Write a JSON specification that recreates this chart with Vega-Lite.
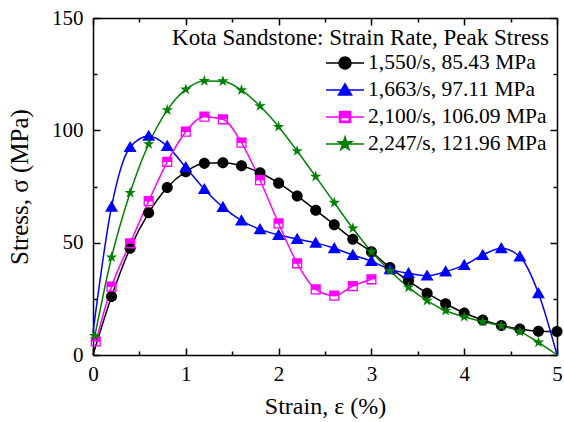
{
  "$schema": "https://vega.github.io/schema/vega-lite/v6.json",
  "width": 464,
  "height": 337,
  "autosize": {"type": "none"},
  "padding": {"left": 93, "top": 18, "right": 7, "bottom": 67},
  "background": "white",
  "title": {"text": "Kota Sandstone: Strain Rate, Peak Stress", "anchor": "end", "frame": "group", "offset": -43, "dx": -8, "font": "Liberation Serif", "fontSize": 23, "fontWeight": "normal", "color": "black"},
  "config": {
    "view": {"stroke": null},
    "axis": {"domainColor": "black", "domainWidth": 1.5, "tickColor": "black", "tickWidth": 1.5, "grid": false, "labelFont": "Liberation Serif", "labelFontSize": 21, "labelColor": "black", "titleFont": "Liberation Serif", "titleFontWeight": "normal", "titleColor": "black"},
    "legend": {"labelFont": "Liberation Serif", "labelFontSize": 21.5, "labelColor": "black", "labelLimit": 0}
  },
  "data": {"values": [
    {"series": "1,550/s, 85.43 MPa", "strain": 0, "stress": 0},
    {"series": "1,550/s, 85.43 MPa", "strain": 0.2, "stress": 26},
    {"series": "1,550/s, 85.43 MPa", "strain": 0.4, "stress": 47.5},
    {"series": "1,550/s, 85.43 MPa", "strain": 0.6, "stress": 63.3},
    {"series": "1,550/s, 85.43 MPa", "strain": 0.8, "stress": 74.6},
    {"series": "1,550/s, 85.43 MPa", "strain": 1.0, "stress": 81.6},
    {"series": "1,550/s, 85.43 MPa", "strain": 1.2, "stress": 85.3},
    {"series": "1,550/s, 85.43 MPa", "strain": 1.4, "stress": 85.6},
    {"series": "1,550/s, 85.43 MPa", "strain": 1.6, "stress": 84.2},
    {"series": "1,550/s, 85.43 MPa", "strain": 1.8, "stress": 81.1},
    {"series": "1,550/s, 85.43 MPa", "strain": 2.0, "stress": 76.5},
    {"series": "1,550/s, 85.43 MPa", "strain": 2.2, "stress": 70.8},
    {"series": "1,550/s, 85.43 MPa", "strain": 2.4, "stress": 64.4},
    {"series": "1,550/s, 85.43 MPa", "strain": 2.6, "stress": 58},
    {"series": "1,550/s, 85.43 MPa", "strain": 2.8, "stress": 51.5},
    {"series": "1,550/s, 85.43 MPa", "strain": 3.0, "stress": 45.9},
    {"series": "1,550/s, 85.43 MPa", "strain": 3.2, "stress": 38.9},
    {"series": "1,550/s, 85.43 MPa", "strain": 3.4, "stress": 33},
    {"series": "1,550/s, 85.43 MPa", "strain": 3.6, "stress": 27.5},
    {"series": "1,550/s, 85.43 MPa", "strain": 3.8, "stress": 22.8},
    {"series": "1,550/s, 85.43 MPa", "strain": 4.0, "stress": 18.7},
    {"series": "1,550/s, 85.43 MPa", "strain": 4.2, "stress": 15.6},
    {"series": "1,550/s, 85.43 MPa", "strain": 4.4, "stress": 13.1},
    {"series": "1,550/s, 85.43 MPa", "strain": 4.6, "stress": 11.6},
    {"series": "1,550/s, 85.43 MPa", "strain": 4.8, "stress": 10.6},
    {"series": "1,550/s, 85.43 MPa", "strain": 5.0, "stress": 10.5},
    {"series": "1,663/s, 97.11 MPa", "strain": 0, "stress": 10},
    {"series": "1,663/s, 97.11 MPa", "strain": 0.2, "stress": 66},
    {"series": "1,663/s, 97.11 MPa", "strain": 0.4, "stress": 92.5},
    {"series": "1,663/s, 97.11 MPa", "strain": 0.6, "stress": 97.5},
    {"series": "1,663/s, 97.11 MPa", "strain": 0.8, "stress": 93},
    {"series": "1,663/s, 97.11 MPa", "strain": 1.0, "stress": 83.5},
    {"series": "1,663/s, 97.11 MPa", "strain": 1.2, "stress": 73.8},
    {"series": "1,663/s, 97.11 MPa", "strain": 1.4, "stress": 65.8},
    {"series": "1,663/s, 97.11 MPa", "strain": 1.6, "stress": 59.8},
    {"series": "1,663/s, 97.11 MPa", "strain": 1.8, "stress": 55.9},
    {"series": "1,663/s, 97.11 MPa", "strain": 2.0, "stress": 53.4},
    {"series": "1,663/s, 97.11 MPa", "strain": 2.2, "stress": 51.6},
    {"series": "1,663/s, 97.11 MPa", "strain": 2.4, "stress": 49.9},
    {"series": "1,663/s, 97.11 MPa", "strain": 2.6, "stress": 47.5},
    {"series": "1,663/s, 97.11 MPa", "strain": 2.8, "stress": 44.5},
    {"series": "1,663/s, 97.11 MPa", "strain": 3.0, "stress": 41.8},
    {"series": "1,663/s, 97.11 MPa", "strain": 3.2, "stress": 38.1},
    {"series": "1,663/s, 97.11 MPa", "strain": 3.4, "stress": 36.4},
    {"series": "1,663/s, 97.11 MPa", "strain": 3.6, "stress": 35.3},
    {"series": "1,663/s, 97.11 MPa", "strain": 3.8, "stress": 37.1},
    {"series": "1,663/s, 97.11 MPa", "strain": 4.0, "stress": 40},
    {"series": "1,663/s, 97.11 MPa", "strain": 4.2, "stress": 44.5},
    {"series": "1,663/s, 97.11 MPa", "strain": 4.4, "stress": 47.5},
    {"series": "1,663/s, 97.11 MPa", "strain": 4.6, "stress": 43.8},
    {"series": "1,663/s, 97.11 MPa", "strain": 4.8, "stress": 27.5},
    {"series": "1,663/s, 97.11 MPa", "strain": 5.0, "stress": 0},
    {"series": "2,100/s, 106.09 MPa", "strain": 0.03, "stress": 6},
    {"series": "2,100/s, 106.09 MPa", "strain": 0.2, "stress": 30.4},
    {"series": "2,100/s, 106.09 MPa", "strain": 0.4, "stress": 49.7},
    {"series": "2,100/s, 106.09 MPa", "strain": 0.6, "stress": 68.5},
    {"series": "2,100/s, 106.09 MPa", "strain": 0.8, "stress": 86},
    {"series": "2,100/s, 106.09 MPa", "strain": 1.0, "stress": 99.4},
    {"series": "2,100/s, 106.09 MPa", "strain": 1.2, "stress": 106.1},
    {"series": "2,100/s, 106.09 MPa", "strain": 1.4, "stress": 104.9},
    {"series": "2,100/s, 106.09 MPa", "strain": 1.6, "stress": 94.5},
    {"series": "2,100/s, 106.09 MPa", "strain": 1.8, "stress": 77.8},
    {"series": "2,100/s, 106.09 MPa", "strain": 2.0, "stress": 58.6},
    {"series": "2,100/s, 106.09 MPa", "strain": 2.2, "stress": 40.8},
    {"series": "2,100/s, 106.09 MPa", "strain": 2.4, "stress": 29.2},
    {"series": "2,100/s, 106.09 MPa", "strain": 2.6, "stress": 26.4},
    {"series": "2,100/s, 106.09 MPa", "strain": 2.8, "stress": 30.7},
    {"series": "2,100/s, 106.09 MPa", "strain": 3.0, "stress": 33.7},
    {"series": "2,247/s, 121.96 MPa", "strain": 0.02, "stress": 8.5},
    {"series": "2,247/s, 121.96 MPa", "strain": 0.2, "stress": 43.5},
    {"series": "2,247/s, 121.96 MPa", "strain": 0.4, "stress": 72.2},
    {"series": "2,247/s, 121.96 MPa", "strain": 0.6, "stress": 93.9},
    {"series": "2,247/s, 121.96 MPa", "strain": 0.8, "stress": 109},
    {"series": "2,247/s, 121.96 MPa", "strain": 1.0, "stress": 118.2},
    {"series": "2,247/s, 121.96 MPa", "strain": 1.2, "stress": 122},
    {"series": "2,247/s, 121.96 MPa", "strain": 1.4, "stress": 121.9},
    {"series": "2,247/s, 121.96 MPa", "strain": 1.6, "stress": 117.9},
    {"series": "2,247/s, 121.96 MPa", "strain": 1.8, "stress": 110.8},
    {"series": "2,247/s, 121.96 MPa", "strain": 2.0, "stress": 101.6},
    {"series": "2,247/s, 121.96 MPa", "strain": 2.2, "stress": 90.8},
    {"series": "2,247/s, 121.96 MPa", "strain": 2.4, "stress": 79.4},
    {"series": "2,247/s, 121.96 MPa", "strain": 2.6, "stress": 67.8},
    {"series": "2,247/s, 121.96 MPa", "strain": 2.8, "stress": 56.4},
    {"series": "2,247/s, 121.96 MPa", "strain": 3.0, "stress": 46},
    {"series": "2,247/s, 121.96 MPa", "strain": 3.2, "stress": 37.5},
    {"series": "2,247/s, 121.96 MPa", "strain": 3.4, "stress": 30.1},
    {"series": "2,247/s, 121.96 MPa", "strain": 3.6, "stress": 24.2},
    {"series": "2,247/s, 121.96 MPa", "strain": 3.8, "stress": 19.7},
    {"series": "2,247/s, 121.96 MPa", "strain": 4.0, "stress": 17},
    {"series": "2,247/s, 121.96 MPa", "strain": 4.2, "stress": 14.8},
    {"series": "2,247/s, 121.96 MPa", "strain": 4.4, "stress": 13},
    {"series": "2,247/s, 121.96 MPa", "strain": 4.6, "stress": 10.4},
    {"series": "2,247/s, 121.96 MPa", "strain": 4.8, "stress": 5.6},
    {"series": "2,247/s, 121.96 MPa", "strain": 5.0, "stress": 0}
  ]},
  "resolve": {"axis": {"x": "independent", "y": "independent"}},
  "layer": [
    {
      "mark": {"type": "line", "interpolate": "monotone", "strokeWidth": 1.5},
      "encoding": {
        "x": {"field": "strain", "type": "quantitative", "scale": {"domain": [0, 5], "nice": false},
          "axis": {"orient": "bottom", "values": [0, 0.5, 1, 1.5, 2, 2.5, 3, 3.5, 4, 4.5, 5], "tickSize": {"condition": {"test": "datum.value % 1 === 0", "value": -7}, "value": -4}, "labelExpr": "datum.value % 1 === 0 ? format(datum.value, 'd') : ''", "labelPadding": 15, "labelFlush": false, "labelOverlap": false, "title": "Strain, ε (%)", "titleFontSize": 24, "titlePadding": 7}},
        "y": {"field": "stress", "type": "quantitative", "scale": {"domain": [0, 150], "nice": false},
          "axis": {"orient": "left", "values": [0, 25, 50, 75, 100, 125, 150], "tickSize": {"condition": {"test": "datum.value % 50 === 0", "value": -7}, "value": -4}, "labelExpr": "datum.value % 50 === 0 ? format(datum.value, 'd') : ''", "labelPadding": 17, "labelFlush": false, "labelOverlap": false, "title": "Stress, σ (MPa)", "titleFontSize": 25, "titlePadding": 19}},
        "color": {"field": "series", "type": "nominal",
          "legend": {"orient": "none", "legendX": 241, "legendY": 34, "title": null, "padding": 0, "symbolSize": 400, "labelOffset": 12, "rowPadding": 5, "symbolStrokeWidth": 1.5,
            "encode": {"symbols": {"update": {
              "shape": {"signal": "datum.value === '1,550/s, 85.43 MPa' ? 'M-1.9,0H1.9M0.6,0A0.6,0.6,0,1,1,-0.6,0A0.6,0.6,0,1,1,0.6,0Z' : datum.value === '1,663/s, 97.11 MPa' ? 'M-1.9,0H1.9M0,-0.62L0.66,0.5L-0.66,0.5Z' : datum.value === '2,100/s, 106.09 MPa' ? 'M-1.9,0H1.9M-0.55,-0.55H0.55V0.55H-0.55ZM-0.42,-0.42V0.42H0.42V-0.42ZM-0.42,-0.42H0.42V0.05H-0.42Z' : 'M-1.9,0H1.9M0,-0.7L0.159,-0.218L0.666,-0.216L0.257,0.083L0.411,0.566L0,0.27L-0.411,0.566L-0.257,0.083L-0.666,-0.216L-0.159,-0.218Z'"},
              "fill": {"signal": "datum.value === '1,550/s, 85.43 MPa' ? '#000000' : datum.value === '1,663/s, 97.11 MPa' ? '#0000ff' : datum.value === '2,100/s, 106.09 MPa' ? '#ff00ff' : '#008000'"},
              "stroke": {"signal": "datum.value === '1,550/s, 85.43 MPa' ? '#000000' : datum.value === '1,663/s, 97.11 MPa' ? '#0000ff' : datum.value === '2,100/s, 106.09 MPa' ? '#ff00ff' : '#008000'"},
              "strokeWidth": {"value": 1.5},
              "size": {"value": 400},
              "opacity": {"value": 1},
              "fillOpacity": {"value": 1}
            }}}
          },
          "scale": {"domain": ["1,550/s, 85.43 MPa", "1,663/s, 97.11 MPa", "2,100/s, 106.09 MPa", "2,247/s, 121.96 MPa"], "range": ["#000000", "#0000ff", "#ff00ff", "#008000"]}}
      }
    },
    {
      "transform": [{"filter": "datum.strain > 0.01 && datum.stress > 0.5"}],
      "mark": {"type": "point", "filled": true, "opacity": 1, "size": 144},
      "encoding": {
        "x": {"field": "strain", "type": "quantitative",
          "axis": {"orient": "top", "values": [0, 0.5, 1, 1.5, 2, 2.5, 3, 3.5, 4, 4.5, 5], "tickSize": {"condition": {"test": "datum.value % 1 === 0", "value": -7}, "value": -4}, "labels": false, "title": null}},
        "y": {"field": "stress", "type": "quantitative",
          "axis": {"orient": "right", "values": [0, 25, 50, 75, 100, 125, 150], "tickSize": {"condition": {"test": "datum.value % 50 === 0", "value": -7}, "value": -4}, "labels": false, "title": null}},
        "color": {"field": "series", "type": "nominal"},
        "shape": {"field": "series", "type": "nominal", "legend": null,
          "scale": {"range": ["M0.92,0A0.92,0.92,0,1,1,-0.92,0A0.92,0.92,0,1,1,0.92,0Z", "M0,-1.05L1.08,0.82L-1.08,0.82Z", "M-0.85,-0.85H0.85V0.85H-0.85ZM-0.63,-0.63V0.63H0.63V-0.63ZM-0.63,-0.63H0.63V0.05H-0.63Z", "M0,-1L0.225,-0.309L0.951,-0.309L0.363,0.118L0.588,0.809L0,0.382L-0.588,0.809L-0.363,0.118L-0.951,-0.309L-0.225,-0.309Z"]}}
      }
    }
  ]
}
